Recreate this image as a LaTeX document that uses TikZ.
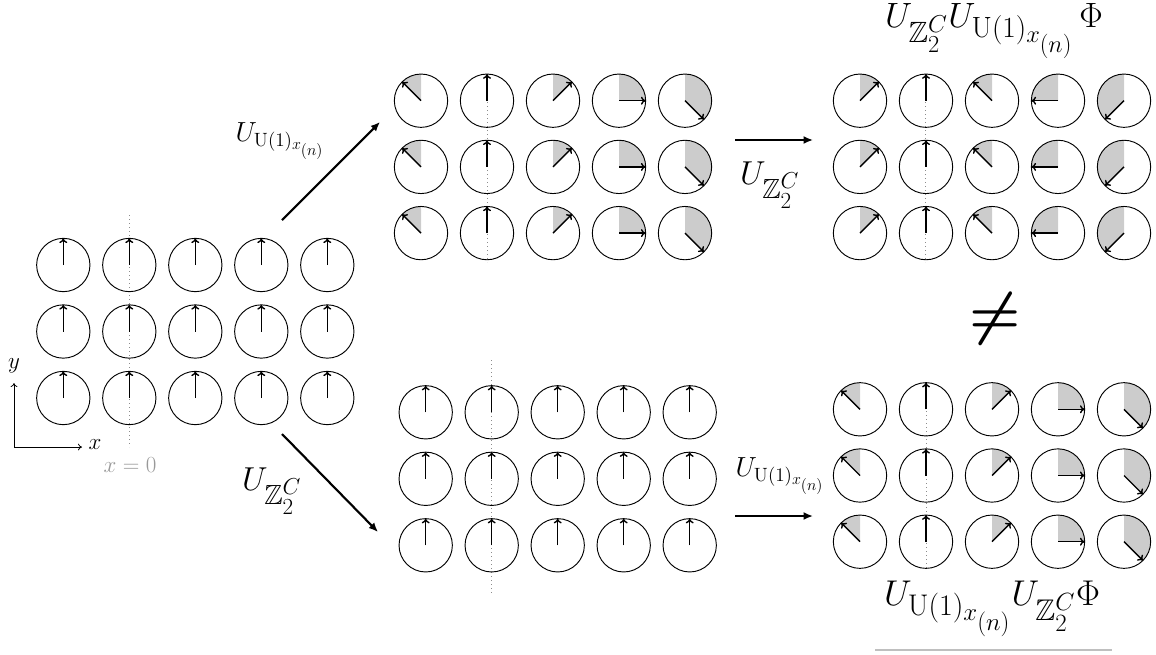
\RequirePackage{fix-cm}
\documentclass[tikz,border=0pt]{standalone}
\usepackage{amsmath,amssymb,graphicx}
\usetikzlibrary{arrows.meta}
\tikzset{
  spin/.style={circle,draw,line width=0.7pt,minimum size=40pt,inner sep=0pt},
  spinarrow/.style={line width=1.05pt,-{To[length=3.6pt,width=6pt]}},
  phase/.style={fill=black!20},
  bigarrow/.style={line width=1.6pt,-{Latex[length=7pt,width=6pt]}},
  axisarrow/.style={line width=0.6pt,-{To[length=3pt,width=5pt]}},
  originline/.style={black!45,line width=0.6pt,dash pattern=on 0.8pt off 2.2pt},
  lbl/.style={inner sep=0pt},
}
\newcommand\spinat[4]{%
  \pgfmathsetmacro\spinang{-(#4)}%
  \ifdim #4pt=90pt\else
    \fill[phase] (#2,#3) -- ++(-90:26.7) arc[start angle=-90,end angle=\spinang,radius=26.7] -- cycle;
  \fi
  \node[spin] (#1) at (#2,#3) {};
  \draw[spinarrow] (#1.center) -- ++(\spinang:26.7);
}
\newcommand\spingrid[5]{% prefix, x0, y0, dy, angle list
  \foreach \r in {0,1,2}{
    \foreach \ang [count=\c] in {#5}{
      \pgfmathsetmacro\px{#2+66*(\c-1)}
      \pgfmathsetmacro\py{#3+#4*\r}
      \spinat{#1\r\c}{\px}{\py}{\ang}
    }
  }
}
\begin{document}
\begin{tikzpicture}[x=0.75pt,y=-0.75pt]
\useasboundingbox (0,0) rectangle (1156,654);

% dotted x=0 lines
\draw[originline] (129.3,215) -- (129.3,447);
\draw[originline] (487.3,74) -- (487.3,262);
\draw[originline] (925.7,74) -- (925.7,262);
\draw[originline] (491.7,360) -- (491.7,595);
\draw[originline] (926,383) -- (926,570);

% grids
\spingrid{L}{63.3}{265}{66.5}{90,90,90,90,90}
\spingrid{TM}{421}{100.7}{66.2}{135,90,45,0,-45}
\spingrid{TR}{860}{100.7}{66.2}{45,90,135,180,225}
\spingrid{BM}{425.7}{412.3}{66.5}{90,90,90,90,90}
\spingrid{BR}{860}{409.3}{66.2}{135,90,45,0,-45}

% axes
\coordinate (O) at (14,447);
\coordinate (Ytip) at (14,383);
\coordinate (Xtip) at (82,447);
\draw[axisarrow] (O) -- (Ytip);
\draw[axisarrow] (O) -- (Xtip);
\node[lbl,font=\LARGE] (ylab) at (14,366) {$y$};
\node[lbl,font=\LARGE] (xlab) at (95,445) {$x$};
\node[lbl,font=\LARGE,text=black!40] (x0) at (130,465) {$x=0$};

% transformation arrows
\coordinate (a1s) at (282,220); \coordinate (a1e) at (380,122);
\coordinate (a2s) at (282,434); \coordinate (a2e) at (378,532);
\coordinate (a3s) at (735,140); \coordinate (a3e) at (813,140);
\coordinate (a4s) at (735,516); \coordinate (a4e) at (813,516);
\draw[bigarrow] (a1s) -- (a1e);
\draw[bigarrow] (a2s) -- (a2e);
\draw[bigarrow] (a3s) -- (a3e);
\draw[bigarrow] (a4s) -- (a4e);

% labels
\node[lbl,font=\huge] (la) at (280,141) {$U_{\mathrm{U}(1)_{x_{(n)}}}$};
\node[lbl,font=\Huge] (lb) at (272,491) {$U_{\mathbb{Z}_2^C}$};
\node[lbl,font=\Huge] (lc) at (770,185) {$U_{\mathbb{Z}_2^C}$};
\node[lbl,font=\huge] (ld) at (780,476) {$U_{\mathrm{U}(1)_{x_{(n)}}}$};
\node[lbl,font=\Huge] (top) at (994,31) {\scalebox{1.06}{$U_{\mathbb{Z}_2^C}U_{\mathrm{U}(1)_{x_{(n)}}}\,\Phi$}};
\node[lbl,font=\Huge] (bot) at (992,609) {\scalebox{1.08}{$U_{\mathrm{U}(1)_{x_{(n)}}}U_{\mathbb{Z}_2^C}\Phi$}};
\coordinate (ul1) at (875,650); \coordinate (ul2) at (1112,650);
\draw[black!25,line width=0.8pt] (ul1) -- (ul2);
\node[lbl] (neq) at (995,319) {\fontsize{44}{48}\selectfont$\boldsymbol{\neq}$};
\end{tikzpicture}
\end{document}
